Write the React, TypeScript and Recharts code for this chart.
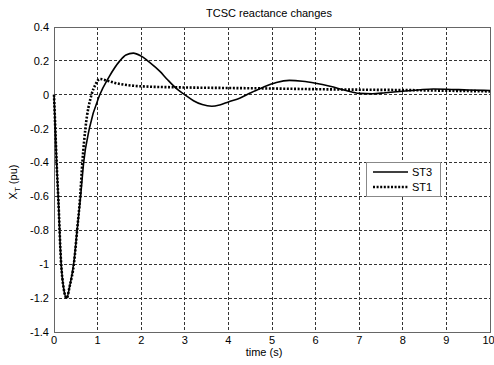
import React from "react";
import { LineChart, Line, XAxis, YAxis, CartesianGrid, ReferenceArea } from "recharts";

const xTicks = [0, 1, 2, 3, 4, 5, 6, 7, 8, 9, 10];
const yTicks = [-1.4, -1.2, -1, -0.8, -0.6, -0.4, -0.2, 0, 0.2, 0.4];

const st3Time = [0, 0.03, 0.06, 0.1, 0.16, 0.22, 0.29, 0.36, 0.46, 0.53, 0.61, 0.68, 0.81, 1.05, 1.25, 1.51, 1.65, 1.82, 2.0, 2.2, 2.43, 2.6, 2.81, 3.0, 3.2, 3.4, 3.62, 3.8, 4.0, 4.27, 4.5, 4.8, 5.1, 5.4, 5.7, 6.0, 6.33, 6.7, 7.0, 7.3, 7.6, 8.0, 8.4, 8.7, 9.0, 9.5, 10];
const st3Values = [0, -0.2, -0.4, -0.62, -0.98, -1.14, -1.2, -1.13, -0.98, -0.8, -0.6, -0.4, -0.2, 0, 0.1, 0.2, 0.235, 0.246, 0.228, 0.19, 0.138, 0.09, 0.036, 0, -0.035, -0.058, -0.068, -0.06, -0.042, -0.019, 0.01, 0.045, 0.073, 0.085, 0.08, 0.068, 0.05, 0.025, 0.008, 0.006, 0.012, 0.021, 0.03, 0.034, 0.033, 0.028, 0.025];

const st1Time = [0, 0.03, 0.06, 0.1, 0.16, 0.22, 0.29, 0.36, 0.46, 0.53, 0.6, 0.65, 0.72, 0.86, 0.95, 1.05, 1.2, 1.4, 1.6, 2.0, 2.8, 4.0, 5.0, 6.0, 7.0, 8.0, 9.0, 10];
const st1Values = [0, -0.2, -0.4, -0.62, -0.98, -1.14, -1.2, -1.13, -0.99, -0.8, -0.6, -0.4, -0.2, 0, 0.06, 0.093, 0.085, 0.07, 0.06, 0.05, 0.044, 0.04, 0.037, 0.033, 0.03, 0.028, 0.024, 0.02];

const seriesNames = ["ST3", "ST1"];

const st3Data = st3Time.map((t, i) => ({ t, v: st3Values[i] }));
const st1Data = st1Time.map((t, i) => ({ t, v: st1Values[i] }));

const FONT = "'Liberation Sans', Arial, Helvetica, sans-serif";

export default function App() {
  return (
    <div style={{ position: "absolute", left: 0, top: 0, width: 494, height: 365, background: "#fff", fontFamily: FONT }}>
      <LineChart width={494} height={365} margin={{ top: 27, right: 4, bottom: 13, left: 10 }}>
        <CartesianGrid stroke="#333" strokeDasharray="3 2" strokeWidth={1} shapeRendering="crispEdges" />
        <XAxis
          dataKey="t"
          type="number"
          domain={[0, 10]}
          ticks={xTicks}
          allowDuplicatedCategory={false}
          height={20}
          tickSize={0}
          tickMargin={4}
          axisLine={false}
          tick={{ fontSize: 11, fill: "#000", fontFamily: FONT }}
        />
        <YAxis
          type="number"
          domain={[-1.4, 0.4]}
          ticks={yTicks}
          width={44}
          tickSize={0}
          tickMargin={5}
          axisLine={false}
          tickFormatter={(v: number) => String(v)}
          tick={{ fontSize: 11, fill: "#000", fontFamily: FONT }}
        />
        <ReferenceArea x1={0} x2={10} y1={-1.4} y2={0.4} fill="none" stroke="#666" strokeWidth={1} shapeRendering="crispEdges" ifOverflow="extendDomain" />
        <Line data={st3Data} dataKey="v" name={seriesNames[0]} type="monotone" stroke="#000" strokeWidth={1.6} dot={false} isAnimationActive={false} />
        <Line data={st1Data} dataKey="v" name={seriesNames[1]} type="monotone" stroke="#000" strokeWidth={2.6} strokeDasharray="2 1.6" dot={false} isAnimationActive={false} />
      </LineChart>
      <div style={{ position: "absolute", left: 0, width: 538, top: 7, textAlign: "center", fontSize: 11, color: "#000", whiteSpace: "nowrap" }}>
        TCSC reactance changes
      </div>
      <div style={{ position: "absolute", left: 0, width: 528, top: 346, textAlign: "center", fontSize: 11, color: "#000", whiteSpace: "nowrap" }}>
        time (s)
      </div>
      <div style={{ position: "absolute", left: 15, top: 182, width: 0, height: 0 }}>
        <div style={{ position: "absolute", transform: "translate(-50%, -50%) rotate(-90deg)", fontSize: 11, color: "#000", whiteSpace: "nowrap", lineHeight: "13px" }}>
          X<sub style={{ fontSize: 8, verticalAlign: "-3px" }}>T</sub> (pu)
        </div>
      </div>
      <div style={{ position: "absolute", left: 366, top: 162, width: 73, height: 33, border: "1px solid #888", background: "#fff" }}>
        <svg width={73} height={33} style={{ position: "absolute", left: 0, top: 0 }}>
          <line x1={6} x2={41} y1={9} y2={9} stroke="#000" strokeWidth={1.6} />
          <line x1={6} x2={41} y1={24} y2={24} stroke="#000" strokeWidth={2.6} strokeDasharray="2 1.6" />
          <text x={45} y={13} fontSize={11} fontFamily={FONT} fill="#000">{seriesNames[0]}</text>
          <text x={45} y={28} fontSize={11} fontFamily={FONT} fill="#000">{seriesNames[1]}</text>
        </svg>
      </div>
    </div>
  );
}
